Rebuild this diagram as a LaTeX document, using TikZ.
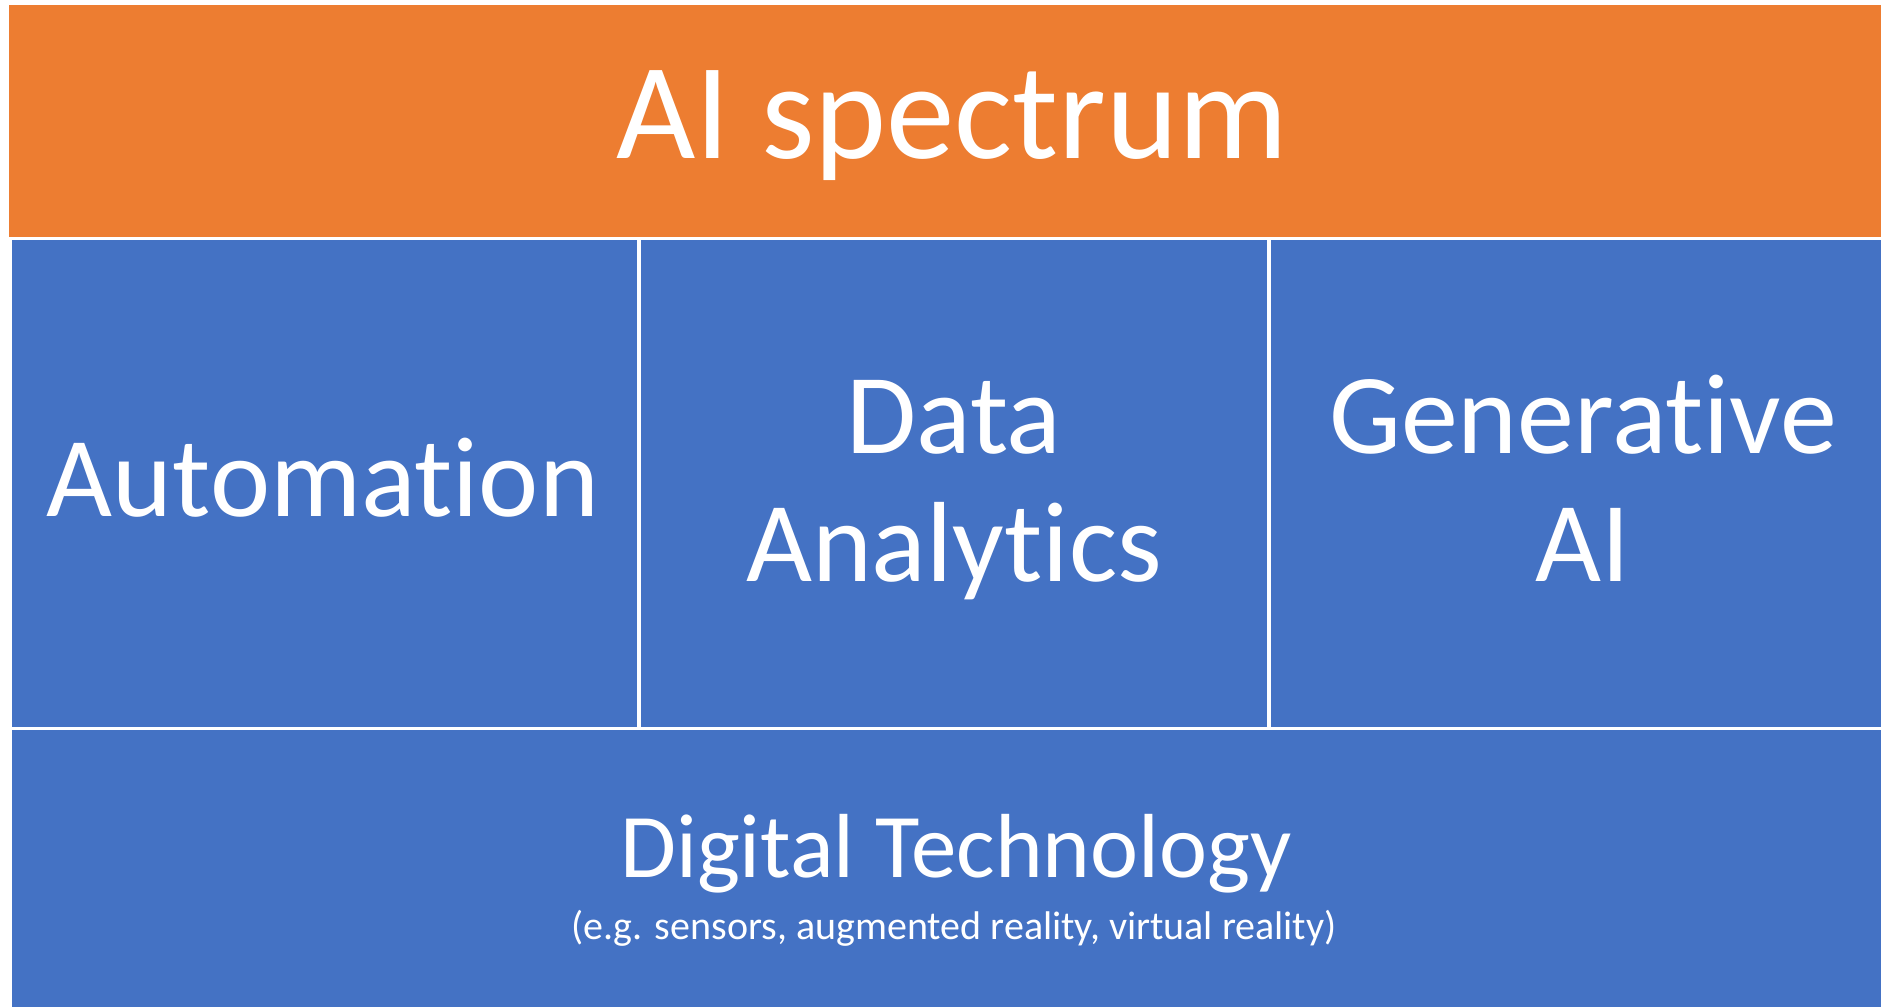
\documentclass[tikz,border=0pt]{standalone}
\usepackage{fontspec}
\setmainfont[Ligatures={NoCommon}]{Carlito}
\definecolor{aiorange}{HTML}{ED7D31}
\definecolor{aiblue}{HTML}{4472C4}
\begin{document}
\begin{tikzpicture}[x=1pt,y=1pt,
  panel/.style={fill=#1,draw=none},
  label/.style={text=white,inner sep=0pt,anchor=base,align=center}]
\useasboundingbox (0,0) rectangle (1881,-1007);
\fill[white] (0,0) rectangle (1881,-1007);
\fill[panel=aiorange] (9,-5) rectangle (1881,-237);
\fill[panel=aiblue] (12,-240) rectangle (637,-727);
\fill[panel=aiblue] (641,-240) rectangle (1267,-727);
\fill[panel=aiblue] (1271,-240) rectangle (1881,-727);
\fill[panel=aiblue] (12,-730) rectangle (1881,-1007);
\node[label,font=\fontsize{137}{160}\selectfont] (title) at (952,-158) {AI spectrum};
\node[label,font=\fontsize{114}{128}\selectfont] (auto) at (323,-516) {Automation};
\node[label,font=\fontsize{114}{128}\selectfont] (data) at (954,-581) {Data\\Analytics};
\node[label,font=\fontsize{114}{128}\selectfont] (gen) at (1583,-581) {Generative\\AI};
\node[label,font=\fontsize{91}{100}\selectfont] (dig) at (956,-877) {Digital Technology};
\node[label,font=\fontsize{40}{48}\selectfont] (eg) at (954,-939) {(e.g. sensors, augmented reality, virtual reality)};
\end{tikzpicture}
\end{document}
